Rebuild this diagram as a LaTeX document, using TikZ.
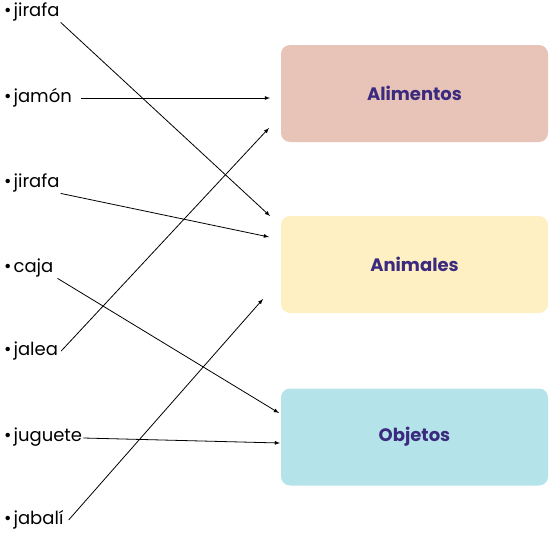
\documentclass[tikz,border=0pt]{standalone}
\usepackage{fontspec}
\setmainfont{Poppins}
\definecolor{foodbg}{HTML}{E8C4B8}
\definecolor{animalbg}{HTML}{FEF0C2}
\definecolor{objectbg}{HTML}{B4E4EA}
\definecolor{titlecol}{HTML}{3B2A7E}
\newcommand{\dotmark}{\textbullet\kern2pt}
\tikzset{
    word/.style = {anchor=west, inner sep=1pt, font=\fontsize{18}{20}\selectfont},
    group/.style = {rounded corners=9pt, minimum width=267pt, minimum height=97pt,
        inner sep=0pt, text=titlecol, font=\fontsize{18}{20}\selectfont\bfseries},
    link/.style = {-latex, line width=0.8pt}
}
\begin{document}
\begin{tikzpicture}[x=1pt, y=-1pt]
    \useasboundingbox (0,0) rectangle (549,533);
    % categories
    \node[group, fill=foodbg] (food) at (414.5,93.5) {Alimentos};
    \node[group, fill=animalbg] (animals) at (414.5,264.5) {Animales};
    \node[group, fill=objectbg] (things) at (414.5,437) {Objetos};
    % words
    \node[word] (jirafaA) at (3,12) {\dotmark jirafa};
    \node[word] (jamon) at (3,98) {\dotmark jamón};
    \node[word] (jirafaB) at (3,183) {\dotmark jirafa};
    \node[word] (caja) at (3,268) {\dotmark caja};
    \node[word] (jalea) at (3,351) {\dotmark jalea};
    \node[word] (juguete) at (3,437) {\dotmark juguete};
    \node[word] (jabali) at (3,520) {\dotmark jabalí};
    % arrow ends
    \coordinate (endA) at (270,216);
    \coordinate (endB) at (270,98);
    \coordinate (endC) at (269,237);
    \coordinate (endD) at (279,413);
    \coordinate (endE) at (269,128);
    \coordinate (endF) at (280,443);
    \coordinate (endG) at (263,299);
    % connections
    \draw[link] (jirafaA.south east) -- (endA);
    \draw[link] ([xshift=8pt]jamon.east) -- (endB);
    \draw[link] (jirafaB.south east) -- (endC);
    \draw[link] ([xshift=3pt]caja.south east) -- (endD);
    \draw[link] ([xshift=2pt]jalea.east) -- (endE);
    \draw[link] ([yshift=-1pt]juguete.east) -- (endF);
    \draw[link] ([xshift=4pt]jabali.east) -- (endG);
\end{tikzpicture}
\end{document}
